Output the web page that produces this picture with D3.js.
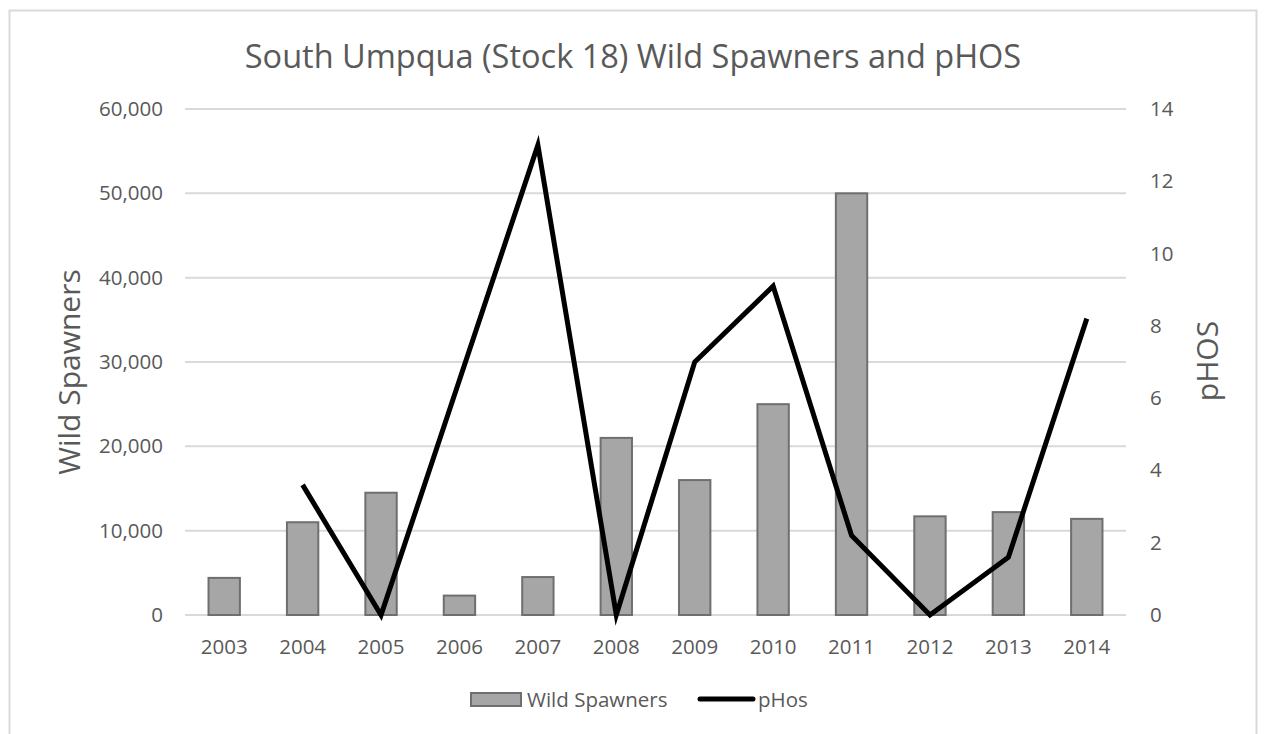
<!DOCTYPE html>
<html>
<head>
<meta charset="utf-8">
<script src="https://cdn.jsdelivr.net/npm/d3@7/dist/d3.min.js"></script>
<style>
  html, body { margin: 0; padding: 0; background: #fff; }
  svg { display: block; font-family: "Open Sans", "Noto Sans", sans-serif; }
</style>
</head>
<body>
<svg id="chart" width="1264" height="734"></svg>
<script>
const years = ["2003","2004","2005","2006","2007","2008","2009","2010","2011","2012","2013","2014"];
const wildSpawners = [4400, 11000, 14500, 2300, 4500, 21000, 16000, 25000, 50000, 11700, 12200, 11400];
const phosYears = ["2004","2005","2006","2007","2008","2009","2010","2011","2012","2013","2014"];
const phosValues = [3.6, 0, 6.5, 13, 0, 7.0, 9.1, 2.2, 0, 1.6, 8.2];
const leftTicks = [0, 10000, 20000, 30000, 40000, 50000, 60000];
const rightTicks = [0, 2, 4, 6, 8, 10, 12, 14];

const svg = d3.select("#chart");
const m = { left: 185, right: 1126, top: 109, bottom: 615 };
const textColor = "#595959";
const tickFont = "20.5px";

// border
svg.append("rect").attr("x", 9.5).attr("y", 10.5).attr("width", 1247).attr("height", 740)
  .attr("fill", "#fff").attr("stroke", "#d9d9d9").attr("stroke-width", 2);

const x = d3.scaleBand().domain(years).range([m.left, m.right]).paddingInner(0.6).paddingOuter(0.3);
const yL = d3.scaleLinear().domain([0, 60000]).range([m.bottom, m.top]);
const yR = d3.scaleLinear().domain([0, 14]).range([m.bottom, m.top]);

// gridlines
svg.append("g").selectAll("line").data(leftTicks).join("line")
  .attr("x1", m.left).attr("x2", m.right)
  .attr("y1", d => yL(d)).attr("y2", d => yL(d))
  .attr("stroke", "#d9d9d9").attr("stroke-width", 2);

// left axis
const leftAxis = svg.append("g").attr("transform", `translate(${m.left - 22},0)`)
  .call(d3.axisLeft(yL).tickValues(leftTicks).tickFormat(d3.format(",")).tickSize(0).tickPadding(0));
leftAxis.select(".domain").remove();
leftAxis.selectAll("text").attr("fill", textColor).style("font-size", tickFont).style("font-family", "'Open Sans', sans-serif");

// right axis
const rightAxis = svg.append("g").attr("transform", `translate(${m.right + 24},0)`)
  .call(d3.axisRight(yR).tickValues(rightTicks).tickSize(0).tickPadding(0));
rightAxis.select(".domain").remove();
rightAxis.selectAll("text").attr("fill", textColor).style("font-size", tickFont).style("font-family", "'Open Sans', sans-serif");

// bottom axis
const bottomAxis = svg.append("g").attr("transform", `translate(0,${m.bottom + 24})`)
  .call(d3.axisBottom(x).tickSize(0).tickPadding(0));
bottomAxis.select(".domain").remove();
bottomAxis.selectAll("text").attr("fill", textColor).style("font-size", tickFont).style("font-family", "'Open Sans', sans-serif");

// bars
svg.append("g").selectAll("rect").data(years.map((y, i) => ({ y, v: wildSpawners[i] }))).join("rect")
  .attr("x", d => x(d.y)).attr("width", x.bandwidth())
  .attr("y", d => yL(d.v)).attr("height", d => yL(0) - yL(d.v))
  .attr("fill", "#a6a6a6").attr("stroke", "#6f6f6f").attr("stroke-width", 2);

// line
const line = d3.line().x(d => x(d.y) + x.bandwidth() / 2).y(d => yR(d.v));
svg.append("path").datum(phosYears.map((y, i) => ({ y, v: phosValues[i] })))
  .attr("d", line).attr("fill", "none").attr("stroke", "#000").attr("stroke-width", 5)
  .attr("stroke-linejoin", "miter").attr("stroke-miterlimit", 10);

// title
svg.append("text").attr("x", 633).attr("y", 68).attr("text-anchor", "middle")
  .attr("fill", textColor).style("font-size", "32.5px").text("South Umpqua (Stock 18) Wild Spawners and pHOS");

// axis titles
svg.append("text").attr("transform", "translate(80,372) rotate(-90)").attr("text-anchor", "middle")
  .attr("fill", textColor).style("font-size", "30px").text("Wild Spawners");
svg.append("text").attr("transform", "translate(1218,361) rotate(-90)").attr("text-anchor", "middle")
  .attr("fill", textColor).style("font-size", "30px").text("pHOS");

// legend
const lg = svg.append("g");
lg.append("rect").attr("x", 471).attr("y", 693).attr("width", 50).attr("height", 13)
  .attr("fill", "#a6a6a6").attr("stroke", "#6f6f6f").attr("stroke-width", 2);
lg.append("text").attr("x", 527).attr("y", 707).attr("fill", textColor).style("font-size", "20.5px").text("Wild Spawners");
lg.append("line").attr("x1", 700).attr("x2", 753).attr("y1", 699).attr("y2", 699)
  .attr("stroke", "#000").attr("stroke-width", 5).attr("stroke-linecap", "round");
lg.append("text").attr("x", 758).attr("y", 707).attr("fill", textColor).style("font-size", "20.5px").text("pHos");
</script>
</body>
</html>
